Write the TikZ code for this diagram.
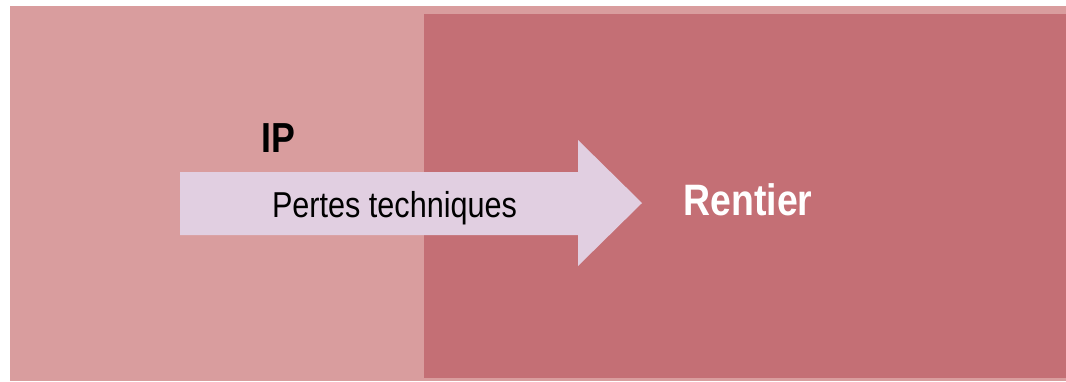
\documentclass[tikz,border=0pt]{standalone}
\usepackage{fontspec}
\setmainfont{Liberation Sans}
\definecolor{rosepale}{HTML}{D99D9E}
\definecolor{rosefonce}{HTML}{C46F75}
\definecolor{mauveclair}{HTML}{E1CFE1}

\begin{document}
\begin{tikzpicture}[x=1pt,y=-1pt,
  lbl/.style={anchor=base,inner sep=0pt,xscale=.85,transform shape}]
  \useasboundingbox (0,0) rectangle (1066,381);
  \fill[rosepale] (10,6) rectangle (1066,381);
  \fill[rosefonce] (424,14) rectangle (1066,378);
  % fleche
  \fill[mauveclair] (180,172) -- (578,172) -- (578,140) -- (642,203)
    -- (578,266) -- (578,235) -- (180,235) -- cycle;
  \node[lbl,font=\fontsize{36}{36}\selectfont] (pertes) at (394.5,217) {Pertes techniques};
  \node[lbl,font=\bfseries\fontsize{42}{42}\selectfont] (ip) at (278.5,152) {IP};
  \node[lbl,font=\bfseries\fontsize{44}{44}\selectfont,text=white] (rentier) at (748,215) {Rentier};
\end{tikzpicture}
\end{document}
